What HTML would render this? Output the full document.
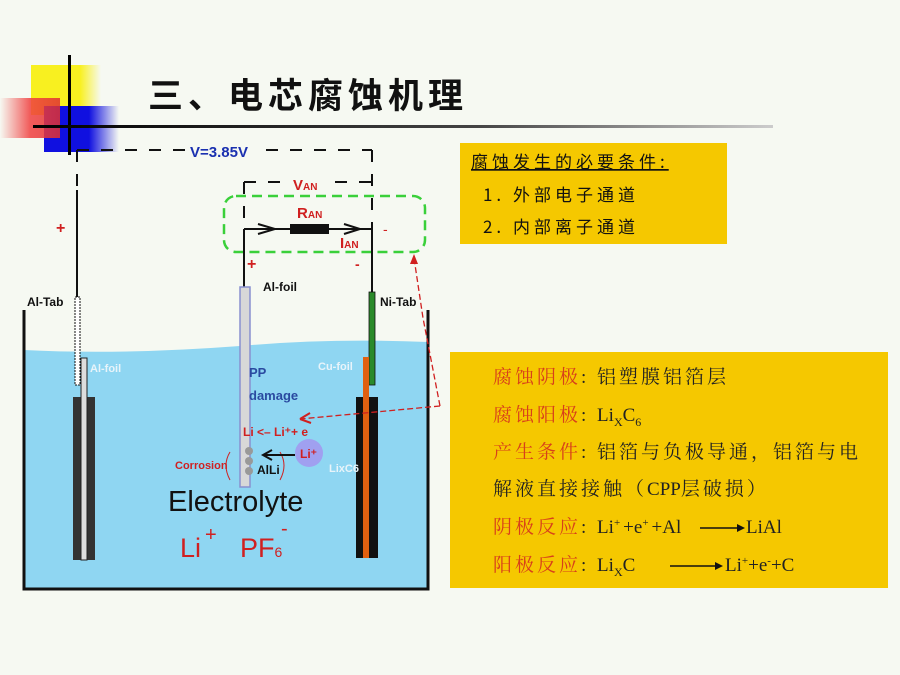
<!DOCTYPE html>
<html><head><meta charset="utf-8"><style>
html,body{margin:0;padding:0;background:#f6f9f2;}
svg{display:block}
</style></head><body>
<svg width="900" height="675" viewBox="0 0 900 675" xmlns="http://www.w3.org/2000/svg" font-family="'Liberation Sans','Noto Sans CJK SC',sans-serif">
<defs>
<linearGradient id="hl" x1="0" x2="1"><stop offset="0" stop-color="#000"/><stop offset="0.6" stop-color="#444"/><stop offset="1" stop-color="#ccc"/></linearGradient>
<linearGradient id="rd" x1="0" x2="1"><stop offset="0" stop-color="#f6f9f2"/><stop offset="0.5" stop-color="#f04040"/><stop offset="1" stop-color="#e03030"/></linearGradient>
<linearGradient id="bl" x1="0" x2="1"><stop offset="0" stop-color="#1010e0"/><stop offset="0.6" stop-color="#1010e0"/><stop offset="1" stop-color="#f6f9f2"/></linearGradient>
<linearGradient id="yl" x1="0" x2="1"><stop offset="0" stop-color="#f8f020"/><stop offset="0.7" stop-color="#f8f020"/><stop offset="1" stop-color="#f6f9f2"/></linearGradient>
</defs>
<rect x="31" y="65" width="70" height="50" fill="url(#yl)"/>
<rect x="44" y="106" width="75" height="46" fill="url(#bl)"/>
<rect x="0" y="98" width="60" height="40" fill="url(#rd)" opacity="0.85"/>
<rect x="68" y="55" width="3" height="62" fill="#000"/>
<rect x="68" y="117" width="3" height="38" fill="#000"/>
<rect x="33" y="125" width="740" height="3" fill="url(#hl)"/>
<text x="148" y="108" font-size="35" font-weight="bold" fill="#111" font-family="'Noto Sans CJK SC',sans-serif" letter-spacing="5">三、电芯腐蚀机理</text>

<path d="M24,350 Q120,355 240,346 Q330,338 428,342 L428,588 L24,588 Z" fill="#8fd6f2"/>
<path d="M24,310 L24,589 L428,589 L428,310" fill="none" stroke="#111" stroke-width="3"/>

<g stroke="#111" stroke-width="2" stroke-dasharray="12,12" fill="none">
<path d="M77,150 L185,150"/><path d="M266,150 L372,150"/>
<path d="M77,150 L77,190"/>
<path d="M244,182 L288,182"/><path d="M335,182 L372,182"/>
<path d="M244,182 L244,229"/><path d="M372,150 L372,229"/>
</g>
<text x="190" y="157" font-size="15" fill="#1a30b0" font-weight="bold">V=3.85V</text>
<text x="293" y="190" font-size="15" fill="#d02020" font-weight="bold">V<tspan font-size="10">AN</tspan></text>
<rect x="224" y="196" width="201" height="56" rx="12" fill="none" stroke="#3ad03a" stroke-width="2.5" stroke-dasharray="10,6"/>
<path d="M244,229 L372,229 M244,229 L244,287 M372,229 L372,292 M77,190 L77,297" stroke="#111" stroke-width="2" fill="none"/>
<rect x="290" y="224" width="39" height="10" fill="#111"/>
<path d="M258,224 L275,229 L258,234 M344,224 L360,229 L344,234" stroke="#111" stroke-width="2" fill="none"/>
<text x="297" y="218" font-size="15" fill="#d02020" font-weight="bold">R<tspan font-size="10">AN</tspan></text>
<text x="340" y="248" font-size="15" fill="#d02020" font-weight="bold">I<tspan font-size="10">AN</tspan></text>
<text x="383" y="234" font-size="14" fill="#d02020">-</text>
<text x="56" y="233" font-size="16" fill="#d02020" font-weight="bold">+</text>
<text x="247" y="269" font-size="16" fill="#d02020" font-weight="bold">+</text>
<text x="355" y="269" font-size="14" fill="#d02020" font-weight="bold">-</text>

<rect x="75" y="297" width="5" height="88" fill="#fff" stroke="#111" stroke-width="1" stroke-dasharray="2,1"/>
<rect x="73" y="397" width="22" height="163" fill="#333"/>
<rect x="81" y="358" width="6" height="202" fill="#ddd" stroke="#222" stroke-width="1"/>
<text x="27" y="306" font-size="12" font-weight="bold" fill="#111">Al-Tab</text>
<text x="90" y="372" font-size="11" font-weight="bold" fill="#e8f4fa">Al-foil</text>

<rect x="240" y="287" width="10" height="200" fill="#d8d8d8" stroke="#8890d0" stroke-width="1.5"/>
<text x="263" y="291" font-size="12" font-weight="bold" fill="#111">Al-foil</text>
<text x="249" y="377" font-size="13" font-weight="bold" fill="#2a4aa0">PP</text>
<text x="249" y="400" font-size="13" font-weight="bold" fill="#2a4aa0">damage</text>
<text x="243" y="436" font-size="12" font-weight="bold" fill="#d02020">Li &lt;– Li⁺+ e</text>
<circle cx="249" cy="451" r="4" fill="#999"/><circle cx="249" cy="461" r="4" fill="#999"/><circle cx="249" cy="471" r="4" fill="#999"/>
<text x="257" y="474" font-size="12" font-weight="bold" fill="#111">AlLi</text>
<text x="175" y="469" font-size="11" font-weight="bold" fill="#d02020">Corrosion</text>
<path d="M230,452 Q222,465 230,480 M280,452 Q288,465 280,480" stroke="#d02020" fill="none"/>
<circle cx="309" cy="453" r="14" fill="#a0a0f0"/>
<text x="300" y="458" font-size="12" font-weight="bold" fill="#d02020">Li⁺</text>
<path d="M295,455 L265,455 M272,450 L263,455 L272,460" stroke="#111" stroke-width="2" fill="none"/>
<text x="168" y="511" font-size="29" fill="#111">Electrolyte</text>
<text x="180" y="557" font-size="27" fill="#d02020">Li</text><text x="205" y="541" font-size="20" fill="#d02020">+</text>
<text x="240" y="557" font-size="27" fill="#d02020">PF<tspan font-size="14">6</tspan></text><text x="281" y="535" font-size="20" fill="#d02020">-</text>

<rect x="369" y="292" width="6" height="93" fill="#2a8a2a" stroke="#111" stroke-width="0.8"/>
<rect x="356" y="397" width="22" height="161" fill="#111"/>
<rect x="363" y="357" width="6" height="201" fill="#e06010"/>
<text x="380" y="306" font-size="12" font-weight="bold" fill="#111">Ni-Tab</text>
<text x="318" y="370" font-size="11" font-weight="bold" fill="#e8f4fa">Cu-foil</text>
<text x="329" y="472" font-size="11" font-weight="bold" fill="#e8f4fa">LixC6</text>

<path d="M440,406 L300,419 M440,406 L423,318 L414,258" stroke="#d02020" stroke-width="1.3" stroke-dasharray="6,3" fill="none"/>
<path d="M300,419 L310,413 M300,419 L311,423" stroke="#d02020" stroke-width="2"/>
<path d="M414,254 L410,264 L418,264 Z" fill="#d02020"/>

<rect x="460" y="143" width="267" height="101" fill="#f5c800"/>
<g font-family="'Noto Sans CJK SC',sans-serif" fill="#111" letter-spacing="4">
<text x="471" y="168" font-size="17" text-decoration="underline">腐蚀发生的必要条件:</text>
<text x="483" y="201" font-size="17">1. 外部电子通道</text>
<text x="483" y="233" font-size="17">2. 内部离子通道</text>
</g>

<rect x="450" y="352" width="438" height="236" fill="#f5c800"/>
<g font-family="'Liberation Serif','Noto Serif CJK SC',serif" font-size="19" fill="#222" letter-spacing="3">
<text x="493" y="383"><tspan fill="#d8401a">腐蚀阴极</tspan>: 铝塑膜铝箔层</text>
<text x="493" y="421"><tspan fill="#d8401a">腐蚀阳极</tspan>: <tspan letter-spacing="0">Li</tspan><tspan font-size="12" dy="5" letter-spacing="0">X</tspan><tspan dy="-5" letter-spacing="0">C</tspan><tspan font-size="12" dy="5">6</tspan></text>
<text x="493" y="458"><tspan fill="#d8401a">产生条件</tspan>: 铝箔与负极导通，铝箔与电</text>
<text x="493" y="495">解液直接接触（<tspan letter-spacing="0">CPP</tspan>层破损）</text>
<text x="493" y="533"><tspan fill="#d8401a">阴极反应</tspan>: <tspan letter-spacing="0">Li</tspan><tspan font-size="11" dy="-7">+</tspan><tspan dy="7" letter-spacing="0">+e</tspan><tspan font-size="11" dy="-7">+</tspan><tspan dy="7" letter-spacing="0">+Al</tspan></text>
<text x="746" y="533" letter-spacing="0">LiAl</text>
<text x="493" y="571"><tspan fill="#d8401a">阳极反应</tspan>: <tspan letter-spacing="0">Li</tspan><tspan font-size="12" dy="5" letter-spacing="0">X</tspan><tspan dy="-5" letter-spacing="0">C</tspan></text>
<text x="725" y="571" letter-spacing="0">Li<tspan font-size="11" dy="-7">+</tspan><tspan dy="7">+e</tspan><tspan font-size="11" dy="-7">-</tspan><tspan dy="7">+C</tspan></text>
</g>
<path d="M700,528 L740,528 M670,566 L718,566" stroke="#111" stroke-width="1.5"/>
<path d="M745,528 L737,524 L737,532 Z M723,566 L715,562 L715,570 Z" fill="#111"/>
</svg>
</body></html>
